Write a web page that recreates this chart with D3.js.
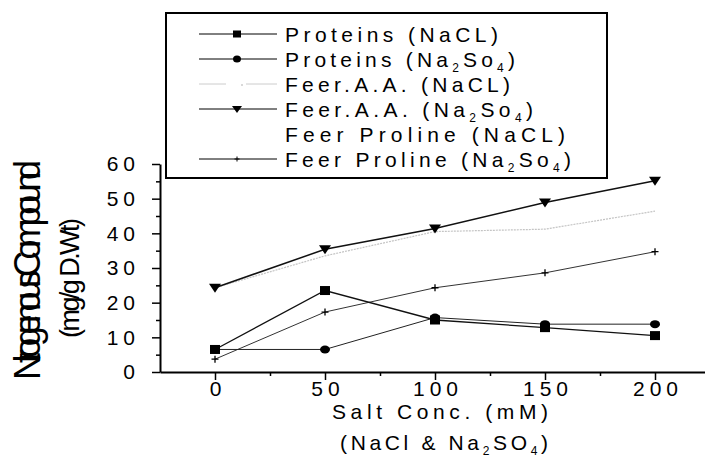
<!DOCTYPE html>
<html>
<head>
<meta charset="utf-8">
<script src="https://cdn.jsdelivr.net/npm/d3@7"></script>
<style>
  body { margin: 0; background: #fff; }
  svg { display: block; font-family: Arial, "Liberation Sans", sans-serif; }
</style>
</head>
<body>
<script>
// salt concentrations (mM)
var saltConc = [0, 50, 100, 150, 200];

// series values
var proteinsNaCl = [6.5, 23.5, 15.0, 12.8, 10.5];
var proteinsNa2So4 = [6.5, 6.5, 15.7, 13.8, 13.8];
var freeAANaCl = [24.3, 33.5, 40.5, 41.2, 46.4];
var freeAANa2So4 = [24.3, 35.4, 41.4, 48.9, 55.2];
var prolineNa2So4 = [3.7, 17.3, 24.3, 28.6, 34.7];

var yTicks = [0, 10, 20, 30, 40, 50, 60];
var yMinor = [5, 15, 25, 35, 45, 55];
var xTicks = [0, 50, 100, 150, 200];
var xMinor = [25, 75, 125, 175];

var W = 705, H = 459;

var svg = d3.select("body").append("svg")
    .attr("width", W)
    .attr("height", H);

var x = d3.scaleLinear().domain([-25, 225]).range([160, 710]);
var y = d3.scaleLinear().domain([0, 60]).range([372, 164]);

// axes
var xAxis_g = svg.append("g")
    .attr("transform", "translate(0," + y(0) + ")")
    .call(d3.axisBottom(x).tickValues(xTicks).tickSize(8).tickPadding(1).tickSizeOuter(0));
svg.append("g")
    .attr("transform", "translate(0," + y(0) + ")")
    .call(d3.axisBottom(x).tickValues(xMinor).tickSize(4).tickFormat("").tickSizeOuter(0))
    .select(".domain").remove();

var yAxis_g = svg.append("g")
    .attr("transform", "translate(" + x(-25) + ",0)")
    .call(d3.axisLeft(y).tickValues(yTicks).tickSize(8).tickPadding(12).tickSizeOuter(0));
svg.append("g")
    .attr("transform", "translate(" + x(-25) + ",0)")
    .call(d3.axisLeft(y).tickValues(yMinor).tickSize(4).tickFormat("").tickSizeOuter(0))
    .select(".domain").remove();

svg.selectAll(".domain").attr("stroke", "#000").attr("stroke-width", 2);
svg.selectAll(".tick line").attr("stroke", "#000").attr("stroke-width", 1.5);
svg.selectAll(".tick text")
    .attr("fill", "#000")
    .style("font-size", "21px")
    .style("font-family", "Arial, 'Liberation Sans', sans-serif")
    .style("letter-spacing", "5px");
xAxis_g.selectAll(".tick text").attr("dx", "2.5px");

// lines
var line = d3.line()
    .x(function (d) { return x(d.x); })
    .y(function (d) { return y(d.y); });

function pts(vals) {
    return saltConc.map(function (c, i) { return { x: c, y: vals[i] }; });
}

var series = [
    { name: "aaNaCl", vals: freeAANaCl, stroke: "#c4c4c4", width: 1.2, dash: "2,1", marker: null },
    { name: "proNa2", vals: prolineNa2So4, stroke: "#333", width: 1, marker: "plus" },
    { name: "protNa2", vals: proteinsNa2So4, stroke: "#222", width: 1, marker: "circle" },
    { name: "protNaCl", vals: proteinsNaCl, stroke: "#111", width: 1.3, marker: "square" },
    { name: "aaNa2", vals: freeAANa2So4, stroke: "#111", width: 1.5, marker: "triangle" }
];

function drawMarker(g, type, cx, cy) {
    if (type === "square") {
        g.append("rect").attr("x", cx - 5).attr("y", cy - 4.5).attr("width", 10).attr("height", 9).attr("fill", "#000");
    } else if (type === "circle") {
        g.append("ellipse").attr("cx", cx).attr("cy", cy).attr("rx", 5).attr("ry", 4).attr("fill", "#000");
    } else if (type === "triangle") {
        g.append("path").attr("d", "M" + (cx - 6) + "," + (cy - 4) + "L" + (cx + 6) + "," + (cy - 4) + "L" + cx + "," + (cy + 5) + "Z").attr("fill", "#000");
    } else if (type === "plus") {
        g.append("path").attr("d", "M" + (cx - 3.5) + "," + cy + "H" + (cx + 3.5) + "M" + cx + "," + (cy - 3.5) + "V" + (cy + 3.5))
            .attr("stroke", "#000").attr("stroke-width", 1.3);
    }
}

series.forEach(function (s) {
    var g = svg.append("g").attr("class", s.name);
    g.append("path")
        .datum(pts(s.vals))
        .attr("d", line)
        .attr("fill", "none")
        .attr("stroke", s.stroke)
        .attr("stroke-width", s.width)
        .attr("stroke-dasharray", s.dash || null);
    if (s.marker) {
        pts(s.vals).forEach(function (p) {
            drawMarker(g, s.marker, x(p.x), y(p.y));
        });
    }
});

// legend
var legend = svg.append("g");
legend.append("rect")
    .attr("x", 166).attr("y", 13).attr("width", 441).attr("height", 165)
    .attr("fill", "#fff").attr("stroke", "#000").attr("stroke-width", 2);

var legendItems = [
    { parts: [["Proteins (NaCL)", 0]], marker: "square", stroke: "#000", end: 498 },
    { parts: [["Proteins (Na", 0], ["2", 1], ["So", 0], ["4", 1], [")", 0]], marker: "circle", stroke: "#000", end: 515 },
    { parts: [["Feer.A.A. (NaCL)", 0]], marker: "gray", stroke: "#ccc", end: 510 },
    { parts: [["Feer.A.A. (Na", 0], ["2", 1], ["So", 0], ["4", 1], [")", 0]], marker: "triangle", stroke: "#000", end: 533 },
    { parts: [["Feer Proline (NaCL)", 0]], marker: "none", stroke: null, end: 565 },
    { parts: [["Feer Proline (Na", 0], ["2", 1], ["So", 0], ["4", 1], [")", 0]], marker: "plus", stroke: "#000", end: 571 }
];

legendItems.forEach(function (it, i) {
    var cy = 34 + i * 25;
    if (it.stroke) {
        legend.append("line").attr("x1", 199).attr("x2", 277).attr("y1", cy).attr("y2", cy)
            .attr("stroke", it.stroke).attr("stroke-width", 1);
    }
    if (it.marker === "gray") {
        legend.append("rect").attr("x", 226).attr("y", cy - 2).attr("width", 20).attr("height", 4).attr("fill", "#fff");
        legend.append("circle").attr("cx", 242).attr("cy", cy + 1).attr("r", 1).attr("fill", "#ccc");
    } else if (it.marker === "square") {
        legend.append("rect").attr("x", 233).attr("y", cy - 3.5).attr("width", 8).attr("height", 7).attr("fill", "#000");
    } else if (it.marker === "circle") {
        legend.append("ellipse").attr("cx", 237).attr("cy", cy).attr("rx", 4).attr("ry", 3.5).attr("fill", "#000");
    } else if (it.marker === "triangle") {
        legend.append("path").attr("d", "M232," + (cy - 3) + "L242," + (cy - 3) + "L237," + (cy + 4) + "Z").attr("fill", "#000");
    } else if (it.marker === "plus") {
        legend.append("path").attr("d", "M234.5," + cy + "H239.5M237," + (cy - 2.5) + "V" + (cy + 2.5))
            .attr("stroke", "#000").attr("stroke-width", 1);
    }
    var t = legend.append("text")
        .attr("x", 285).attr("y", cy + 7.5)
        .attr("textLength", it.end - 285)
        .attr("lengthAdjust", "spacing")
        .style("font-size", "21px");
    it.parts.forEach(function (p) {
        var ts = t.append("tspan").text(p[0]);
        if (p[1]) ts.style("font-size", "12px").attr("dy", 5);
        else if (t.selectAll("tspan").size() > 1) ts.attr("dy", -5);
    });
});

// x axis title
svg.append("text")
    .attr("x", 332).attr("y", 419)
    .attr("textLength", 216).attr("lengthAdjust", "spacing")
    .style("font-size", "21px")
    .text("Salt Conc. (mM)");
var xt2 = svg.append("text")
    .attr("x", 340).attr("y", 450)
    .attr("textLength", 208).attr("lengthAdjust", "spacing")
    .style("font-size", "21px");
xt2.append("tspan").text("(NaCl & Na");
xt2.append("tspan").text("2").style("font-size", "12px").attr("dy", 5);
xt2.append("tspan").text("SO").attr("dy", -5);
xt2.append("tspan").text("4").style("font-size", "12px").attr("dy", 5);
xt2.append("tspan").text(")").attr("dy", -5);

// y axis title (squeezed so the letters overlap, as in the original)
svg.append("text")
    .attr("transform", "translate(40,270) rotate(-90)")
    .attr("text-anchor", "middle")
    .attr("textLength", 220).attr("lengthAdjust", "spacing")
    .style("font-size", "36px")
    .text("Nitrogenous Compound");
svg.append("text")
    .attr("transform", "translate(79,278) rotate(-90)")
    .attr("text-anchor", "middle")
    .attr("textLength", 120).attr("lengthAdjust", "spacing")
    .style("font-size", "27px")
    .text("(mg/g D.Wt)");
</script>
</body>
</html>
